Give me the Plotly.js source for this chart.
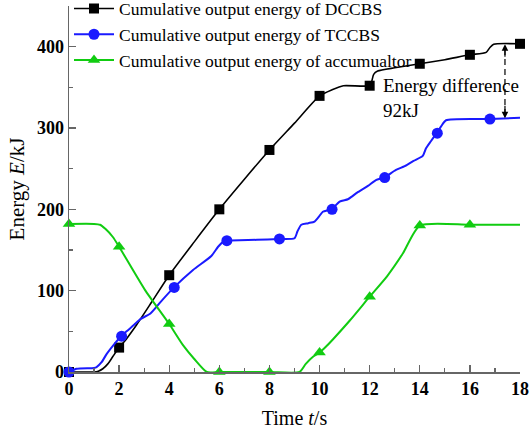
<!DOCTYPE html>
<html>
<head>
<meta charset="utf-8">
<script src="https://cdn.plot.ly/plotly-3.0.1.min.js"></script>
<style>html,body{margin:0;padding:0;background:#fff;}#chart{width:530px;height:432px;}</style>
</head>
<body>
<div id="chart"></div>
<script>
// ---- DCCBS (black) curve ----
var dccbsT = [0, 0.5, 1.0, 1.17, 1.35, 1.55, 1.75, 2.0, 2.3, 2.7, 3.3, 4.0, 5.0, 6.0, 7.0, 8.0, 9.0, 10.0, 10.5, 10.95, 12.0, 12.08, 12.16, 12.32, 13.0, 14.0, 15.0, 16.0, 16.65, 16.8, 16.95, 18.0];
var dccbsE = [0, 0, 0, 1, 4, 10, 19, 30, 41, 58, 86, 119, 160, 200, 237, 273, 306, 339.5, 347, 352, 352, 357, 366, 370, 374, 379, 384, 390, 393, 399, 403, 403.5];
var dccbsMarkT = [0, 2, 4, 6, 8, 10, 12, 14, 16, 18];
var dccbsMarkE = [0, 30, 119, 200, 273, 339.5, 352, 379, 390, 403.5];

// ---- TCCBS (blue) curve ----
var tccbsT = [0, 0.3, 1.0, 1.1, 1.3, 1.5, 1.8, 2.08, 2.3, 2.6, 2.85, 3.25, 3.65, 4.19, 4.95, 5.68, 5.95, 6.15, 6.29, 7.5, 8.38, 9.0, 9.12, 9.27, 9.55, 9.8, 9.95, 10.13, 10.48, 10.8, 11.13, 11.3, 11.5, 11.93, 12.25, 12.58, 13.05, 13.4, 13.75, 14.12, 14.25, 14.45, 14.67, 14.85, 15.05, 16.8, 18.0];
var tccbsE = [0, 4, 5, 6, 12, 22, 34, 44, 50, 58, 65, 72, 86, 104, 125.5, 142.7, 154, 160, 161.5, 162.5, 163.6, 164.5, 173, 181, 183, 185, 190, 197, 200, 209.5, 212.4, 216, 220.6, 228.8, 236, 239, 248.5, 253, 259.5, 265.7, 275, 284, 293.6, 302, 309.5, 311, 312.5];
var tccbsMarkT = [0, 2.1, 4.2, 6.3, 8.4, 10.5, 12.6, 14.7, 16.8];
var tccbsMarkE = [0, 44, 104, 161.5, 163.6, 200, 239, 293.6, 311];

// ---- accumulator (green) curve ----
var accT = [0, 1.0, 1.24, 1.45, 1.75, 2.0, 3.03, 4.0, 4.55, 5.0, 5.5, 6.0, 8.0, 9.2, 9.45, 9.75, 10.0, 10.25, 10.53, 11.2, 12.0, 12.7, 13.33, 14.0, 16.0, 18.0];
var accE = [182, 182, 181, 176, 166, 154, 101, 59, 33, 16, 0, 0, 0, 0, 10, 19, 24, 31, 40, 63, 92.6, 118, 146, 180, 181, 181];
var accMarkT = [0, 2, 4, 6, 8, 10, 12, 14, 16];
var accMarkE = [182, 154, 59, 0, 0, 24, 92.6, 180, 181];

var seriesNames = ["Cumulative output energy of DCCBS", "Cumulative output energy of TCCBS", "Cumulative output energy of accumualtor"];
var xTitle = "Time <i>t</i>/s";
var yTitle = "Energy <i>E</i>/kJ";
var noteText = "Energy difference<br>92kJ";

var cBlack = "#000000", cBlue = "#1a1aff", cGreen = "#11cc11";
var serif = "Liberation Serif, Times New Roman, serif";

function curve(x, y, color, w) {
  return {x: x, y: y, type: "scatter", mode: "lines", line: {color: color, width: w, shape: "spline", smoothing: 0.6},
          showlegend: false, cliponaxis: false, hoverinfo: "skip"};
}
function marks(x, y, color, sym, size) {
  return {x: x, y: y, type: "scatter", mode: "markers", marker: {color: color, symbol: sym, size: size},
          showlegend: false, cliponaxis: false};
}
function legendItem(name, color, sym, size, w) {
  return {x: [null], y: [null], type: "scatter", mode: "lines+markers", name: name,
          line: {color: color, width: w}, marker: {color: color, symbol: sym, size: size}};
}

var data = [
  curve(dccbsT, dccbsE, cBlack, 1.6),
  marks(dccbsMarkT, dccbsMarkE, cBlack, "square", 10),
  curve(tccbsT, tccbsE, cBlue, 2),
  marks(tccbsMarkT, tccbsMarkE, cBlue, "circle", 11),
  curve(accT, accE, cGreen, 2),
  marks(accMarkT, accMarkE, cGreen, "triangle-up", 11),
  legendItem(seriesNames[0], cBlack, "square", 10, 1.6),
  legendItem(seriesNames[1], cBlue, "circle", 11, 2),
  legendItem(seriesNames[2], cGreen, "triangle-up", 11, 2)
];

var arrowX = 17.4, arrowTop = 403, arrowBot = 312;

var layout = {
  width: 530, height: 432,
  margin: {l: 69, r: 10, t: 6, b: 60, autoexpand: false},
  paper_bgcolor: "#fff", plot_bgcolor: "#fff",
  font: {family: serif, color: "#000"},
  showlegend: true,
  legend: {x: 0.0, y: 1.042, xanchor: "left", yanchor: "top", bgcolor: "rgba(0,0,0,0)",
           font: {family: serif, size: 17.5, color: "#000"}, tracegroupgap: 0, itemwidth: 40},
  xaxis: {
    range: [0, 18], dtick: 2, tick0: 0, showgrid: false, zeroline: false,
    showline: true, linecolor: "#666", linewidth: 1.5,
    ticks: "inside", ticklen: 7, tickwidth: 1.3, tickcolor: "#666",
    minor: {dtick: 1, ticks: "inside", ticklen: 4, tickwidth: 1.2, tickcolor: "#666", showgrid: false},
    tickfont: {family: serif, size: 18, weight: "bold", color: "#000"},
    title: {text: xTitle, font: {family: serif, size: 20, color: "#000"}, standoff: 13}
  },
  yaxis: {
    range: [0, 450], dtick: 100, tick0: 0, showgrid: false, zeroline: false,
    showline: true, linecolor: "#666", linewidth: 1.5,
    ticks: "inside", ticklen: 7, tickwidth: 1.3, tickcolor: "#666",
    minor: {dtick: 50, ticks: "inside", ticklen: 4, tickwidth: 1.2, tickcolor: "#666", showgrid: false},
    tickfont: {family: serif, size: 18, weight: "bold", color: "#000"},
    title: {text: yTitle, font: {family: serif, size: 21, color: "#000"}, standoff: 6}
  },
  shapes: [
    {type: "line", xref: "x", yref: "y", x0: arrowX, x1: arrowX, y0: arrowTop - 6, y1: arrowBot + 6,
     line: {color: "#000", width: 1.2, dash: "6px,4px"}}
  ],
  annotations: [
    {x: 12.45, y: 368, xref: "x", yref: "y", xanchor: "left", yanchor: "top", align: "left",
     text: noteText, showarrow: false, font: {family: serif, size: 19, color: "#000"}},
    {x: arrowX, y: arrowTop, xref: "x", yref: "y", ax: 0, ay: 14, axref: "pixel", ayref: "pixel",
     text: "", showarrow: true, arrowhead: 2, arrowsize: 1.1, arrowwidth: 1.2, arrowcolor: "#000"},
    {x: arrowX, y: arrowBot, xref: "x", yref: "y", ax: 0, ay: -14, axref: "pixel", ayref: "pixel",
     text: "", showarrow: true, arrowhead: 2, arrowsize: 1.1, arrowwidth: 1.2, arrowcolor: "#000"}
  ]
};

Plotly.newPlot("chart", data, layout, {staticPlot: true, displayModeBar: false});
</script>
</body>
</html>
